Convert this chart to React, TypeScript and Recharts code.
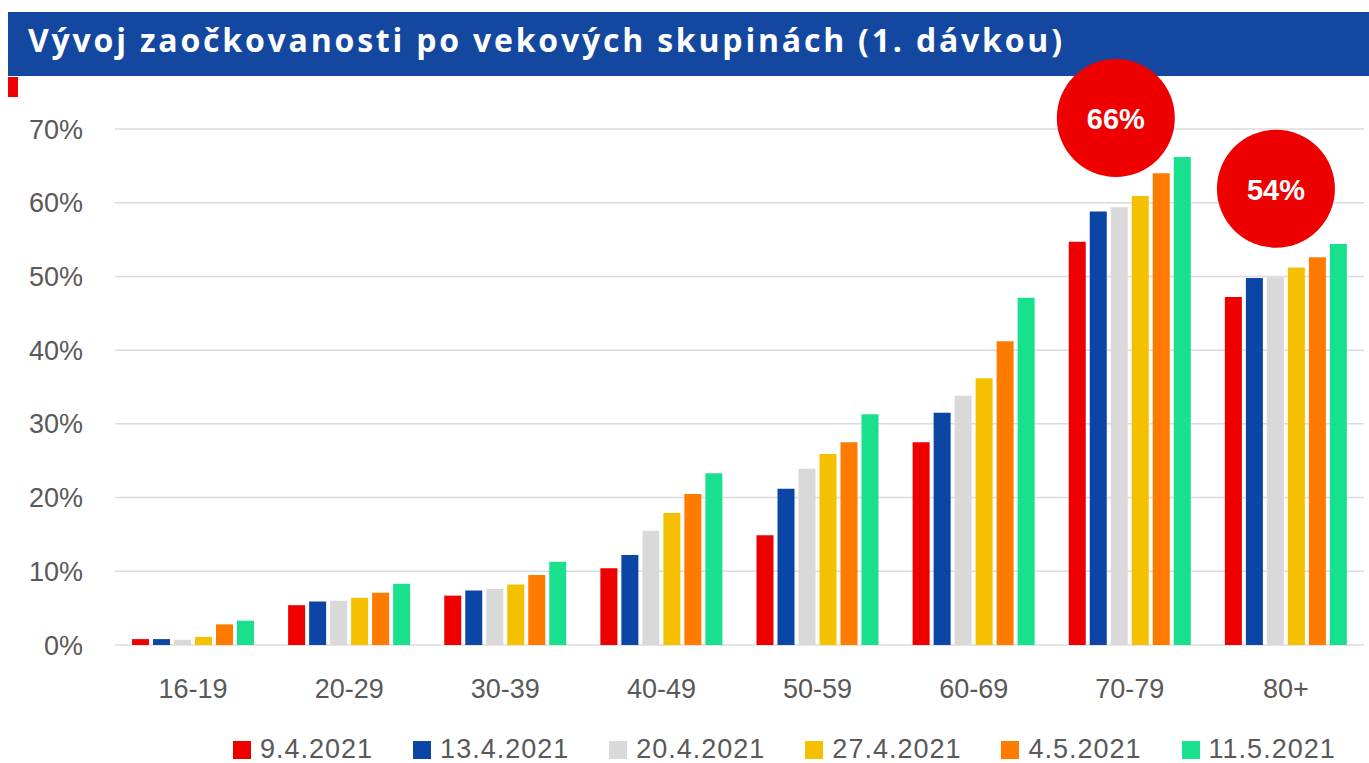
import { Bar, BarChart, CartesianGrid, Legend, ReferenceDot, XAxis, YAxis } from 'recharts'

const categories = ['16-19', '20-29', '30-39', '40-49', '50-59', '60-69', '70-79', '80+']
const dates = ['9.4.2021', '13.4.2021', '20.4.2021', '27.4.2021', '4.5.2021', '11.5.2021']
const colors = ['#ee0000', '#0b45a5', '#d9d9d9', '#f5c000', '#ff7b00', '#18e08c']

const d0904 = [0.8, 5.4, 6.7, 10.4, 14.9, 27.5, 54.7, 47.2]
const d1304 = [0.8, 5.9, 7.4, 12.2, 21.2, 31.5, 58.8, 49.8]
const d2004 = [0.7, 6.0, 7.6, 15.5, 23.9, 33.8, 59.4, 49.9]
const d2704 = [1.1, 6.4, 8.2, 17.9, 25.9, 36.2, 60.9, 51.2]
const d0405 = [2.8, 7.1, 9.5, 20.5, 27.5, 41.2, 64.0, 52.6]
const d1105 = [3.3, 8.3, 11.3, 23.3, 31.3, 47.1, 66.2, 54.4]

const yTicks = [0, 10, 20, 30, 40, 50, 60, 70]

// callout bubbles: category, label, value where the bubble centre sits
const calloutCats = ['70-79', '80+']
const calloutLabels = ['66%', '54%']
const calloutY = [71.5, 61.9]
const calloutShift = [-14, -10]

const series = [d0904, d1304, d2004, d2704, d0405, d1105]

const data = categories.map((cat, i) => {
  const row: Record<string, string | number> = { cat }
  series.forEach((s, k) => {
    row['s' + k] = s[i]
  })
  return row
})

const tickStyle = { fontSize: 27, fill: '#595959', fontFamily: 'Liberation Sans, Arial, sans-serif' }

function renderLegend(props: any) {
  // keep the series order, recharts sorts by name otherwise
  const items = [...(props.payload || [])].sort(
    (a: any, b: any) => dates.indexOf(a.value) - dates.indexOf(b.value)
  )
  return (
    <div
      style={{
        display: 'flex',
        alignItems: 'flex-end',
        height: 45,
        paddingLeft: 233,
        boxSizing: 'border-box',
        fontFamily: 'Liberation Sans, Arial, sans-serif',
      }}
    >
      {items.map((item: any) => (
        <div key={item.value} style={{ display: 'flex', alignItems: 'center', marginRight: 40 }}>
          <span style={{ display: 'inline-block', width: 18, height: 18, background: item.color, marginRight: 9 }} />
          <span style={{ fontSize: 27, lineHeight: '27px', color: '#595959', letterSpacing: 1 }}>{item.value}</span>
        </div>
      ))}
    </div>
  )
}

function bubble(label: string, shift: number) {
  return (props: any) => {
    const { cx, cy } = props
    return (
      <g>
        <circle cx={cx + shift} cy={cy} r={59} fill="#ee0000" />
        <text
          x={cx + shift}
          y={cy + 11}
          textAnchor="middle"
          fill="#ffffff"
          fontSize={29}
          fontWeight={700}
          fontFamily="Liberation Sans, Arial, sans-serif"
        >
          {label}
        </text>
      </g>
    )
  }
}

export default function App() {
  return (
    <div style={{ position: 'absolute', left: 0, top: 0, width: 1369, height: 763, overflow: 'hidden', background: '#fff' }}>
      <div
        style={{
          position: 'absolute',
          left: 8,
          top: 12,
          width: 1361,
          height: 64,
          background: '#1447a0',
          color: '#fff',
          fontFamily: 'Open Sans, sans-serif',
          fontWeight: 700,
          fontSize: 32,
          lineHeight: '32px',
          paddingTop: 12,
          paddingLeft: 20,
          boxSizing: 'border-box',
          letterSpacing: 2.8,
          whiteSpace: 'nowrap',
        }}
      >
        Vývoj zaočkovanosti po vekových skupinách (1. dávkou)
      </div>
      <div style={{ position: 'absolute', left: 8, top: 77, width: 10, height: 20, background: '#ee0000' }} />
      <div style={{ position: 'absolute', left: 0, top: 0 }}>
        <BarChart
          width={1369}
          height={763}
          data={data}
          margin={{ top: 129, right: 5, left: 0, bottom: 0 }}
          barSize={17}
          barGap={4}
        >
          <CartesianGrid vertical={false} stroke="#dcdcdc" strokeWidth={1.5} />
          <XAxis
            dataKey="cat"
            axisLine={false}
            tickLine={false}
            tickSize={0}
            tickMargin={34}
            height={73}
            tick={tickStyle}
            interval={0}
          />
          <YAxis
            domain={[0, 70]}
            ticks={yTicks}
            tickFormatter={(v) => v + '%'}
            axisLine={false}
            tickLine={false}
            tickSize={0}
            tickMargin={32}
            width={115}
            tick={tickStyle}
          />
          <Legend verticalAlign="bottom" height={45} content={renderLegend} wrapperStyle={{ left: 0, width: 1369 }} />
          {series.map((_, k) => (
            <Bar key={k} dataKey={'s' + k} name={dates[k]} fill={colors[k]} isAnimationActive={false} />
          ))}
          {calloutCats.map((cat, i) => (
            <ReferenceDot
              key={cat}
              x={cat}
              y={calloutY[i]}
              r={59}
              ifOverflow="visible"
              shape={bubble(calloutLabels[i], calloutShift[i])}
            />
          ))}
        </BarChart>
      </div>
    </div>
  )
}
